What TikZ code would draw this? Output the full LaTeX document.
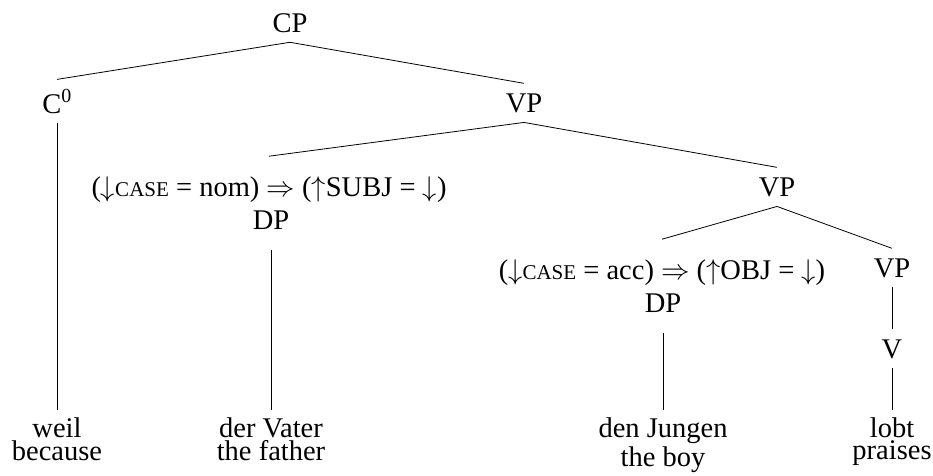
\RequirePackage{fix-cm}
\documentclass[tikz,border=0pt]{standalone}
\usepackage{fontspec}
\setmainfont{Liberation Serif}
\newcommand{\fsmallcaps}[1]{{\fontsize{21}{22}\selectfont #1}}
\newcommand{\leaffont}{\fontsize{28.5}{8}\selectfont\setlength{\lineskip}{2.5pt}}
\begin{document}
\begin{tikzpicture}[x=1pt,y=-1pt,
  every node/.style={font=\fontsize{28.5}{34}\selectfont, inner sep=10pt, outer sep=0pt},
  lbl/.style={anchor=base},
  ann/.style={anchor=base, inner sep=20pt},
  dpl/.style={anchor=base, inner sep=21pt},
  leaf/.style={anchor=north, align=center, inner sep=8pt, font=\leaffont},
  edge/.style={line width=0.8pt}]
\useasboundingbox (0,0) rectangle (933,475);

\node[lbl] (cp) at (290,32) {CP};
\node[lbl] (c0) at (57,113) {C\textsuperscript{0}};
\node[lbl] (vp1) at (524,112) {VP};
\node[ann] (ann1) at (269,196) {($\downarrow$\fsmallcaps{CASE} = nom) $\Rightarrow$ ($\uparrow$SUBJ = $\downarrow$)};
\node[dpl] (dp1) at (271,229) {DP};
\node[lbl] (vp2) at (777,196) {VP};
\node[ann] (ann2) at (662,279) {($\downarrow$\fsmallcaps{CASE} = acc) $\Rightarrow$ ($\uparrow$OBJ = $\downarrow$)};
\node[dpl] (dp2) at (663,312) {DP};
\node[lbl] (vp3) at (892,277) {VP};
\node[lbl] (v) at (892,358) {V};

\node[leaf] (l1) at (57,410) {weil\\because};
\node[leaf] (l2) at (271,410) {der Vater\\the father};
\node[leaf] (l3) at (663,410) {den Jungen\\the boy};
\node[leaf] (l4) at (892,410) {lobt\\praises};

\draw[edge] (cp.south) -- (c0.north);
\draw[edge] (cp.south) -- (vp1.north);
\draw[edge] (c0.south) -- (l1.north);
\draw[edge] (vp1.south) -- (ann1.north);
\draw[edge] (vp1.south) -- (vp2.north);
\draw[edge] (dp1.south) -- (l2.north);
\draw[edge] (vp2.south) -- (ann2.north);
\draw[edge] (vp2.south) -- (vp3.north);
\draw[edge] (dp2.south) -- (l3.north);
\draw[edge] (vp3.south) -- (v.north);
\draw[edge] (v.south) -- (l4.north);
\end{tikzpicture}
\end{document}
